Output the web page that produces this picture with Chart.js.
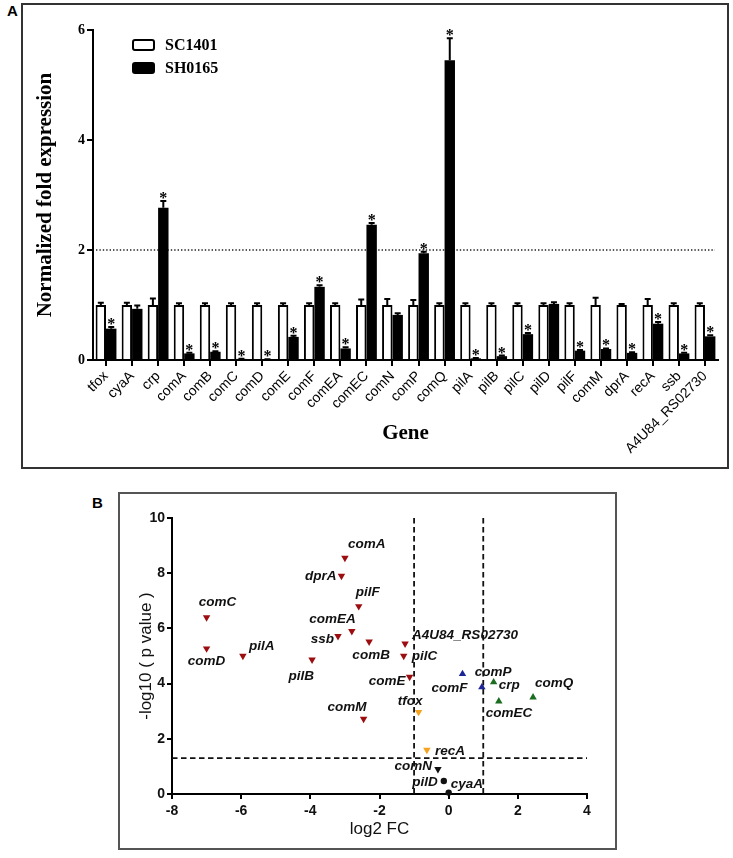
<!DOCTYPE html>
<html><head><meta charset="utf-8">
<script src="https://cdn.jsdelivr.net/npm/chart.js@4.4.1/dist/chart.umd.min.js"></script>
<style>
html,body{margin:0;padding:0;background:#fff;width:733px;height:858px;overflow:hidden;}
.panel{position:absolute;box-sizing:border-box;border:2px solid #333;}
#pa{left:21px;top:3px;width:708px;height:466px;}
#pb{left:118px;top:492px;width:499px;height:358px;border-color:#555;}
canvas{position:absolute;}
.lab{position:absolute;font:bold 15px "Liberation Sans",Arial,sans-serif;line-height:17px;}
</style></head><body>
<div class="lab" style="left:7px;top:2px">A</div>
<div class="lab" style="left:92px;top:494px">B</div>
<div class="panel" id="pa"></div>
<div class="panel" id="pb"></div>
<canvas id="ca" width="706" height="464" style="left:22px;top:4px;width:706px;height:464px"></canvas>
<canvas id="cb" width="497" height="356" style="left:119px;top:493px;width:497px;height:356px"></canvas>
<script>
// ---------- Panel A data ----------
const genes = ['tfox','cyaA','crp','comA','comB','comC','comD','comE','comF','comEA','comEC','comN','comP','comQ','pilA','pilB','pilC','pilD','pilF','comM','dprA','recA','ssb','A4U84_RS02730'];
const sc1401    = [1,1,1,1,1,1,1,1,1,1,1,1,1,1,1,1,1,1,1,1,1,1,1,1];
const sc1401Err = [0.04,0.04,0.12,0.03,0.03,0.03,0.03,0.03,0.03,0.03,0.1,0.11,0.09,0.03,0.03,0.03,0.03,0.03,0.03,0.13,0.02,0.11,0.03,0.03];
const sh0165    = [0.57,0.93,2.77,0.12,0.15,0.02,0.01,0.42,1.33,0.21,2.46,0.82,1.94,5.45,0.03,0.07,0.47,1.02,0.17,0.2,0.13,0.66,0.12,0.43];
const sh0165Err = [0.03,0.06,0.12,0.01,0.01,0.005,0.005,0.02,0.03,0.02,0.03,0.03,0.03,0.4,0.005,0.01,0.02,0.03,0.01,0.01,0.01,0.03,0.01,0.02];
const significant = [1,0,1,1,1,1,1,1,1,1,1,0,1,1,1,1,1,0,1,1,1,1,1,1];
const yTicksA = [0,2,4,6];
const foldThreshold = 2;

// ---------- Panel B data ----------
const volcanoGenes = ['comA','dprA','pilF','comC','comEA','ssb','comB','A4U84_RS02730','pilC','comD','pilA','pilB','comE','comM','tfox','recA','comN','pilD','cyaA','comF','comP','crp','comEC','comQ'];
const log2FC    = [-3.0,-3.1,-2.6,-7.0,-2.8,-3.2,-2.3,-1.26,-1.3,-7.0,-5.95,-3.95,-1.13,-2.46,-0.87,-0.63,-0.31,-0.14,0.0,0.4,0.96,1.3,1.45,2.44];
const negLog10P = [8.55,7.9,6.8,6.4,5.9,5.72,5.52,5.45,5.0,5.27,5.0,4.87,4.24,2.72,2.97,1.6,0.9,0.47,0.05,4.35,3.87,4.05,3.36,3.5];
const volcanoClass = ['down','down','down','down','down','down','down','down','down','down','down','down','down','down','weakDown','weakDown','nsDown','none','none','weakUp','weakUp','up','up','up'];
const xTicksB = [-8,-6,-4,-2,0,2,4];
const yTicksB = [0,2,4,6,8,10];
const fcCutoffs = [-1,1];
const pCutoff = 1.3;

// ---------- styles ----------
const classStyle = {
  down:     {color:'#9c0d0f', style:'triangle', rotation:180, radius:4.3},
  weakDown: {color:'#f5a21f', style:'triangle', rotation:180, radius:4.3},
  nsDown:   {color:'#111111', style:'triangle', rotation:180, radius:4.3},
  none:     {color:'#111111', style:'circle',   rotation:0,   radius:3.2},
  weakUp:   {color:'#1c2596', style:'triangle', rotation:0,   radius:4.3},
  up:       {color:'#1b6d1f', style:'triangle', rotation:0,   radius:4.3}
};
// label placement relative to the marker: [dx, dy, align]
const labelPlace = {
  comA:[3,-14,'left'], dprA:[-5,0,'right'], pilF:[-3,-14,'left'], comC:[11,-15,'center'],
  comEA:[4,-12,'right'], ssb:[-4,3,'right'], comB:[2,14,'center'], A4U84_RS02730:[7,-8,'left'],
  pilC:[8,0,'left'], comD:[0,13,'center'], pilA:[6,-10,'left'], pilB:[2,17,'right'],
  comE:[-4,4,'right'], comM:[3,-12,'right'], tfox:[4,-11,'right'], recA:[8,1,'left'],
  comN:[-6,-3,'right'], pilD:[-6,1,'right'], cyaA:[2,-8,'left'], comF:[5,14,'right'],
  comP:[-7,-15,'left'], crp:[5,3,'left'], comEC:[-13,12,'left'], comQ:[2,-14,'left']
};

const SERIF = '"Liberation Serif","Times New Roman",serif';
const SANS = '"Liberation Sans",Arial,sans-serif';

// ---------- Panel A plugins ----------
const errPlugin = {
  id:'errbars',
  afterDatasetsDraw(chart){
    const ctx = chart.ctx, y = chart.scales.y;
    chart.data.datasets.forEach((ds,i)=>{
      const meta = chart.getDatasetMeta(i);
      meta.data.forEach((bar,j)=>{
        const v = ds.data[j], e = ds.errors[j];
        const top = y.getPixelForValue(v+e), base = y.getPixelForValue(v);
        ctx.save();
        ctx.strokeStyle = '#000'; ctx.lineWidth = 2;
        ctx.beginPath();
        ctx.moveTo(bar.x, base); ctx.lineTo(bar.x, top);
        ctx.moveTo(bar.x-3, top); ctx.lineTo(bar.x+3, top);
        ctx.stroke();
        if (ds.stars && ds.stars[j]) {
          ctx.fillStyle = '#000';
          ctx.font = 'bold 16px ' + SERIF;
          ctx.textAlign = 'center'; ctx.textBaseline = 'alphabetic';
          ctx.fillText('*', bar.x, top + 2);
        }
        ctx.restore();
      });
    });
  }
};
const refLinePlugin = {
  id:'refline',
  beforeDatasetsDraw(chart){
    const ctx = chart.ctx, a = chart.chartArea, y = chart.scales.y.getPixelForValue(foldThreshold);
    ctx.save();
    ctx.strokeStyle = '#222'; ctx.lineWidth = 1.6; ctx.setLineDash([1.4,2]);
    ctx.beginPath(); ctx.moveTo(a.left+3, y); ctx.lineTo(a.right-3, y); ctx.stroke();
    ctx.restore();
  }
};
const legendPlugin = {
  id:'customLegend',
  afterDraw(chart){
    const ctx = chart.ctx, a = chart.chartArea;
    chart.data.datasets.forEach((ds,i)=>{
      const bx = a.left + 40, by = a.top + 10 + i*23;
      ctx.save();
      ctx.fillStyle = ds.backgroundColor; ctx.strokeStyle = '#000'; ctx.lineWidth = 2;
      ctx.beginPath(); ctx.roundRect(bx, by, 21, 10, 2); ctx.fill(); ctx.stroke();
      ctx.fillStyle = '#000'; ctx.font = 'bold 16px ' + SERIF;
      ctx.textAlign = 'left'; ctx.textBaseline = 'middle';
      ctx.fillText(ds.label, bx + 32, by + 5.5);
      ctx.restore();
    });
  }
};

new Chart(document.getElementById('ca'), {
  type:'bar',
  data:{ labels: genes, datasets:[
    {label:'SC1401', data: sc1401, errors: sc1401Err, backgroundColor:'#ffffff', borderColor:'#000', borderWidth:2},
    {label:'SH0165', data: sh0165, errors: sh0165Err, stars: significant, backgroundColor:'#000000', borderColor:'#000', borderWidth:0}
  ]},
  options:{
    responsive:false, animation:false, devicePixelRatio:1,
    layout:{padding:{left:0, top:26, right:10, bottom:0}},
    plugins:{legend:{display:false}, tooltip:{enabled:false}},
    datasets:{bar:{categoryPercentage:0.8, barPercentage:1.0}},
    scales:{
      x:{
        grid:{drawOnChartArea:false, offset:false, tickLength:6, tickColor:'#000', lineWidth:2},
        border:{color:'#000', width:2},
        ticks:{autoSkip:false, minRotation:45, maxRotation:45, color:'#000', padding:2, font:{family:SANS, size:14}},
        title:{display:true, text:'Gene', color:'#000', font:{family:SERIF, size:21, weight:'bold'}, padding:{top:0, bottom:22}},
        afterFit(s){ s.height = 108; }
      },
      y:{
        min:0, max:6,
        afterBuildTicks(s){ s.ticks = yTicksA.map(v=>({value:v})); },
        grid:{drawOnChartArea:false, tickLength:6, tickColor:'#000', lineWidth:2},
        border:{color:'#000', width:2},
        ticks:{color:'#000', padding:2, font:{family:SERIF, size:14, weight:'bold'}},
        title:{display:true, text:'Normalized fold expression', color:'#000', font:{family:SERIF, size:21, weight:'bold'}, padding:{top:11, bottom:0}},
        afterFit(s){ s.width = 71; }
      }
    }
  },
  plugins:[refLinePlugin, errPlugin, legendPlugin]
});

// ---------- Panel B ----------
const classOrder = ['down','weakDown','nsDown','none','weakUp','up'];
const volcanoSets = classOrder.map(c=>{
  const idx = volcanoClass.map((k,i)=>k===c?i:-1).filter(i=>i>=0);
  const st = classStyle[c];
  return {
    label:c,
    data: idx.map(i=>({x:log2FC[i], y:negLog10P[i]})),
    names: idx.map(i=>volcanoGenes[i]),
    pointStyle: st.style, rotation: st.rotation, pointRadius: st.radius,
    backgroundColor: st.color, borderColor: st.color, borderWidth:0, clip:false
  };
});
const cutoffPlugin = {
  id:'cutoffs',
  beforeDatasetsDraw(chart){
    const ctx = chart.ctx, xs = chart.scales.x, ys = chart.scales.y;
    ctx.save();
    ctx.strokeStyle = '#111'; ctx.lineWidth = 1.8; ctx.setLineDash([5.5,3.5]);
    ctx.beginPath();
    fcCutoffs.forEach(v=>{
      const px = xs.getPixelForValue(v);
      ctx.moveTo(px, ys.getPixelForValue(10)); ctx.lineTo(px, ys.getPixelForValue(0));
    });
    const py = ys.getPixelForValue(pCutoff);
    ctx.moveTo(xs.getPixelForValue(-8), py); ctx.lineTo(xs.getPixelForValue(4), py);
    ctx.stroke();
    ctx.restore();
  }
};
const labelPlugin = {
  id:'pointLabels',
  afterDatasetsDraw(chart){
    const ctx = chart.ctx;
    ctx.save();
    ctx.fillStyle = '#111';
    ctx.font = 'italic bold 13.5px ' + SANS;
    ctx.textBaseline = 'middle';
    chart.data.datasets.forEach((ds,i)=>{
      chart.getDatasetMeta(i).data.forEach((pt,j)=>{
        const name = ds.names[j];
        const p = labelPlace[name] || [6,0,'left'];
        ctx.textAlign = p[2];
        ctx.fillText(name, pt.x + p[0], pt.y + p[1]);
      });
    });
    ctx.restore();
  }
};

new Chart(document.getElementById('cb'), {
  type:'scatter',
  data:{datasets: volcanoSets},
  options:{
    responsive:false, animation:false, devicePixelRatio:1,
    layout:{padding:{left:0, top:25, right:29, bottom:0}},
    plugins:{legend:{display:false}, tooltip:{enabled:false}},
    scales:{
      x:{
        type:'linear', min:-8, max:4,
        afterBuildTicks(s){ s.ticks = xTicksB.map(v=>({value:v})); },
        grid:{drawOnChartArea:false, tickLength:5, tickColor:'#000', lineWidth:2},
        border:{color:'#000', width:2},
        ticks:{color:'#111', padding:4, font:{family:SANS, size:14, weight:'bold'}},
        title:{display:true, text:'log2 FC', color:'#111', font:{family:SANS, size:17}, padding:{top:0, bottom:9}},
        afterFit(s){ s.height = 55; }
      },
      y:{
        type:'linear', min:0, max:10,
        afterBuildTicks(s){ s.ticks = yTicksB.map(v=>({value:v})); },
        grid:{drawOnChartArea:false, tickLength:5, tickColor:'#000', lineWidth:2},
        border:{color:'#000', width:2},
        ticks:{color:'#111', padding:2, font:{family:SANS, size:14, weight:'bold'}},
        title:{display:true, text:'-log10 ( p value )', color:'#111', font:{family:SANS, size:17}, padding:{top:17, bottom:0}},
        afterFit(s){ s.width = 53; }
      }
    }
  },
  plugins:[cutoffPlugin, labelPlugin]
});
</script>
</body></html>
